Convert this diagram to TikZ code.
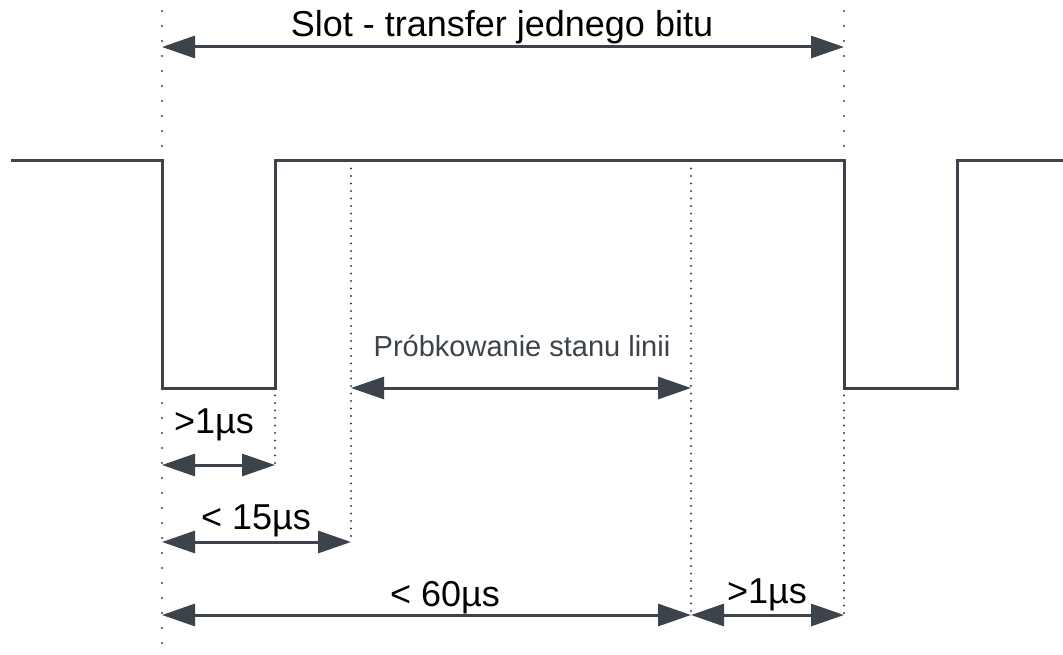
\documentclass[tikz,border=0pt]{standalone}
\usepackage{fontspec}
\setmainfont{Liberation Sans}
\usetikzlibrary{arrows.meta}
\definecolor{ink}{HTML}{3D434B}
\definecolor{dotc}{HTML}{3D434B}
\tikzset{
  signal/.style={draw=ink, line width=3pt, line join=miter},
  dim/.style={draw=ink, line width=3pt, {Triangle[length=33pt,width=22pt]}-{Triangle[length=33pt,width=22pt]}},
  sparsedots/.style={draw=dotc, line width=2.4pt, line cap=round, dash pattern=on 0pt off 15pt},
  densedots/.style={draw=dotc, line width=2.4pt, line cap=round, dash pattern=on 0pt off 7.5pt},
  biglabel/.style={anchor=base, inner sep=0pt, font=\fontsize{36}{40}\selectfont, text=black},
  smalllabel/.style={anchor=base, inner sep=0pt, font=\fontsize{29}{34}\selectfont, text=ink},
}
\begin{document}
\begin{tikzpicture}[x=1pt,y=-1pt]
\useasboundingbox (0,0) rectangle (1063,655);
% signal corners
\coordinate (s0) at (11,161);
\coordinate (s1) at (162,161);
\coordinate (s2) at (162,388);
\coordinate (s3) at (275,388);
\coordinate (s4) at (275,161);
\coordinate (s5) at (844,161);
\coordinate (s6) at (844,388);
\coordinate (s7) at (957,388);
\coordinate (s8) at (957,161);
\coordinate (s9) at (1063,161);
% dotted guide ends
\coordinate (aTop) at (162,11);
\coordinate (aBot) at (162,655);
\coordinate (bTop) at (844,11);
\coordinate (bBot) at (844,615);
\coordinate (c15) at (275,465);
\coordinate (dTop) at (351,161);
\coordinate (dBot) at (351,542);
\coordinate (eTop) at (691,161);
\coordinate (eBot) at (691,615);
% dimension ends
\coordinate (slotL) at (162,47);
\coordinate (slotR) at (844,47);
\coordinate (sampL) at (351,388);
\coordinate (sampR) at (691,388);
\coordinate (oneL) at (162,465);
\coordinate (fifL) at (162,542);
\coordinate (sixL) at (162,615);

% dotted guides
\draw[sparsedots] (aTop) -- (s1);
\draw[sparsedots] (s2) -- (aBot);
\draw[sparsedots] (bTop) -- (s5);
\draw[densedots] (s6) -- (bBot);
\draw[densedots] (s3) -- (c15);
\draw[densedots] (dTop) -- (dBot);
\draw[densedots] (eTop) -- (eBot);

% signal
\draw[signal] (s0) -- (s1) -- (s2) -- (s3) -- (s4) -- (s5) -- (s6) -- (s7) -- (s8) -- (s9);

% dimension arrows
\draw[dim] (slotL) -- (slotR);
\draw[dim] (sampL) -- (sampR);
\draw[dim] (oneL) -- (c15);
\draw[dim] (fifL) -- (dBot);
\draw[dim] (sixL) -- (eBot);
\draw[dim] (eBot) -- (bBot);

% labels
\node[biglabel] (slot) at (502,37) {Slot - transfer jednego bitu};
\node[smalllabel] (samp) at (522,356) {Próbkowanie stanu linii};
\node[biglabel] (one) at (214,433) {>1µs};
\node[biglabel] (fif) at (256,529) {< 15µs};
\node[biglabel] (six) at (445,606) {< 60µs};
\node[biglabel] (onebis) at (767,603) {>1µs};
\end{tikzpicture}
\end{document}
